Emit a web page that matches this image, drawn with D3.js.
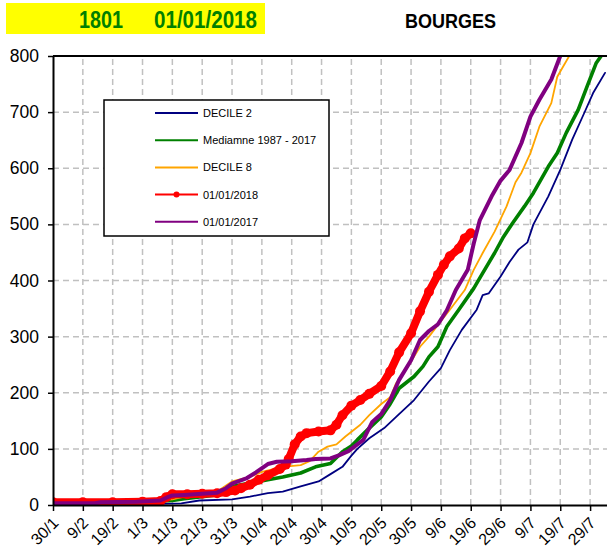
<!DOCTYPE html>
<html>
<head>
<meta charset="utf-8">
<script src="https://cdn.jsdelivr.net/npm/d3@7"></script>
<style>
  html, body { margin: 0; padding: 0; background: #fff; }
  svg { display: block; font-family: Arial, "Liberation Sans", sans-serif; }
</style>
</head>
<body>
<svg id="chart" width="607" height="551"></svg>
<script>
// ---------- DATA ----------
const stationCode = "1801";
const startLabel = "01/01/2018";
const stationName = "BOURGES";
const year = 2018;

const xTickLabels = ["30/1","9/2","19/2","1/3","11/3","21/3","31/3","10/4","20/4","30/4","10/5","20/5","30/5","9/6","19/6","29/6","9/7","19/7","29/7"];
const yTicks = [0,100,200,300,400,500,600,700,800];
const xDomainLabels = ["30/1","4/8"];

const seriesNames = ["DECILE 2","Mediamne 1987 - 2017","DECILE 8","01/01/2018","01/01/2017"];

const decile2Dates = ["30/1","19/2","6/3","14/3","20/3","31/3","6/4","12/4","17/4","23/4","29/4","3/5","7/5","10/5","12/5","16/5","21/5","25/5","31/5","5/6","9/6","12/6","16/6","21/6","23/6","25/6","29/6","2/7","5/7","8/7","10/7","15/7","19/7","23/7","27/7","30/7","3/8"];
const decile2Values = [1,1,2,3,8,10,15,21,24,33,42,55,68,88,100,119,137,157,187,220,244,276,312,348,374,377,407,433,455,468,500,550,597,651,698,734,770];

const medianDates = ["30/1","9/2","19/2","1/3","11/3","15/3","26/3","31/3","6/4","12/4","17/4","23/4","28/4","3/5","7/5","10/5","12/5","16/5","20/5","23/5","26/5","31/5","3/6","5/6","8/6","11/6","15/6","20/6","23/6","27/6","30/6","3/7","7/7","10/7","15/7","18/7","21/7","25/7","28/7","31/7","3/8"];
const medianValues = [1,2,4,6,8,11,18,33,39,45,50,57,68,74,95,105,116,137,157,180,208,229,247,264,282,318,348,386,413,449,478,502,532,556,603,627,663,704,746,787,810];

const decile8Dates = ["30/1","9/2","19/2","1/3","11/3","15/3","21/3","26/3","31/3","6/4","10/4","17/4","23/4","26/4","29/4","2/5","5/5","8/5","13/5","16/5","20/5","23/5","25/5","29/5","2/6","5/6","8/6","12/6","17/6","20/6","23/6","27/6","1/7","4/7","6/7","9/7","12/7","16/7","18/7","22/7","24/7"];
const decile8Values = [2,3,5,7,10,15,20,24,42,50,59,68,71,78,95,104,108,122,143,160,180,192,217,247,282,300,321,348,383,419,449,487,532,575,592,627,674,716,763,800,830];

const y2018Dates = ["30/1","9/2","19/2","1/3","7/3","9/3","11/3","16/3","21/3","26/3","29/3","1/4","3/4","6/4","9/4","12/4","16/4","18/4","19/4","21/4","23/4","25/4","29/4","3/5","5/5","7/5","10/5","13/5","16/5","20/5","23/5","26/5","30/5","2/6","5/6","8/6","10/6","12/6","15/6","17/6","19/6"];
const y2018Values = [5,5,5,6,7,14,19,19,20,21,23,26,30,36,45,53,64,72,82,108,122,128,131,133,143,160,177,187,198,212,238,272,306,345,380,410,428,443,457,475,484];

const y2017Dates = ["30/1","13/2","15/2","27/2","7/3","9/3","11/3","15/3","21/3","26/3","29/3","31/3","5/4","8/4","12/4","15/4","20/4","25/4","28/4","3/5","6/5","9/5","14/5","17/5","20/5","23/5","26/5","30/5","2/6","5/6","8/6","11/6","14/6","18/6","20/6","22/6","26/6","29/6","2/7","6/7","9/7","12/7","16/7","19/7","21/7"];
const y2017Values = [3,3,5,6,8,13,17,18,20,22,30,38,48,58,73,77,78,80,82,83,89,96,116,148,162,187,223,258,294,310,322,347,383,419,466,507,550,578,597,645,692,722,758,800,830];

const seriesColors = ["#000080","#008000","#FFA500","#FF0000","#800080"];

// ---------- HELPERS ----------
const parseDM = s => { const [d, m] = s.split("/").map(Number); return new Date(Date.UTC(year, m - 1, d)); };
const zip = (dates, vals) => dates.map((d, i) => ({ date: parseDM(d), value: vals[i] }));

const series = [
  { name: seriesNames[0], data: zip(decile2Dates, decile2Values), color: seriesColors[0], width: 1.8 },
  { name: seriesNames[1], data: zip(medianDates, medianValues), color: seriesColors[1], width: 3.6 },
  { name: seriesNames[2], data: zip(decile8Dates, decile8Values), color: seriesColors[2], width: 1.8 },
  { name: seriesNames[3], data: zip(y2018Dates, y2018Values), color: seriesColors[3], width: 8, markers: true },
  { name: seriesNames[4], data: zip(y2017Dates, y2017Values), color: seriesColors[4], width: 4 }
];

// ---------- LAYOUT ----------
const svg = d3.select("#chart");
const plot = { left: 53, top: 56, right: 608, bottom: 505 };

const x = d3.scaleUtc().domain(xDomainLabels.map(parseDM)).range([plot.left, plot.right]);
const y = d3.scaleLinear().domain([0, 800]).range([plot.bottom, plot.top]);

// Title
svg.append("rect").attr("x", 6).attr("y", 3).attr("width", 259).attr("height", 31).attr("fill", "#FFFF00");
svg.append("text").attr("x", 79).attr("y", 28).attr("fill", "#008000").attr("font-weight", "bold")
  .attr("font-size", 23).attr("textLength", 44).attr("lengthAdjust", "spacingAndGlyphs").text(stationCode);
svg.append("text").attr("x", 154).attr("y", 28).attr("fill", "#008000").attr("font-weight", "bold")
  .attr("font-size", 23).attr("textLength", 103).attr("lengthAdjust", "spacingAndGlyphs").text(startLabel);
svg.append("text").attr("x", 405).attr("y", 28).attr("fill", "#000").attr("font-weight", "bold")
  .attr("font-size", 21).attr("textLength", 91).attr("lengthAdjust", "spacingAndGlyphs").text(stationName);

// Clip
svg.append("defs").append("clipPath").attr("id", "plotclip").append("rect")
  .attr("x", plot.left).attr("y", plot.top).attr("width", plot.right - plot.left).attr("height", plot.bottom - plot.top);

// Grid
const tickDates = xTickLabels.map(parseDM);
const grid = svg.append("g").attr("stroke", "#c0c0c0").attr("stroke-width", 1.5).attr("stroke-dasharray", "6,4");
grid.selectAll("line.v").data(tickDates.slice(1)).join("line").attr("class", "v")
  .attr("x1", d => x(d)).attr("x2", d => x(d)).attr("y1", plot.bottom).attr("y2", plot.top);
grid.selectAll("line.h").data(yTicks.slice(1, -1)).join("line").attr("class", "h")
  .attr("x1", plot.left).attr("x2", plot.right).attr("y1", d => y(d)).attr("y2", d => y(d));

// Series
const line = d3.line().x(d => x(d.date)).y(d => y(d.value));
const sg = svg.append("g").attr("clip-path", "url(#plotclip)");
series.forEach(s => {
  sg.append("path").datum(s.data).attr("d", line).attr("fill", "none")
    .attr("stroke", s.color).attr("stroke-width", s.width).attr("stroke-linejoin", "round").attr("stroke-linecap", "round");
  if (s.markers) {
    sg.append("g").selectAll("circle").data(s.data).join("circle")
      .attr("cx", d => x(d.date)).attr("cy", d => y(d.value)).attr("r", 5).attr("fill", s.color);
  }
});

// Axes
const xAxis = d3.axisBottom(x).tickValues(tickDates).tickFormat((d, i) => xTickLabels[i]).tickSize(6).tickSizeOuter(0);
const gx = svg.append("g").attr("transform", `translate(0,${plot.bottom})`).call(xAxis);
gx.select(".domain").attr("stroke", "#000").attr("stroke-width", 2);
gx.selectAll(".tick line").attr("stroke", "#000").attr("stroke-width", 1.5);
gx.selectAll(".tick text").attr("font-size", 16).attr("fill", "#000").attr("font-family", "Arial, 'Liberation Sans', sans-serif")
  .attr("text-anchor", "end").attr("dy", null).attr("y", null)
  .attr("transform", "translate(6,19) rotate(-45)");

const yAxis = d3.axisLeft(y).tickValues(yTicks).tickFormat(d3.format("d")).tickSize(5).tickSizeOuter(0).tickPadding(9);
const gy = svg.append("g").attr("transform", `translate(${plot.left},0)`).call(yAxis);
gy.select(".domain").attr("stroke", "#000").attr("stroke-width", 2);
gy.selectAll(".tick line").attr("stroke", "#000").attr("stroke-width", 1.5);
gy.selectAll(".tick text").attr("font-size", 17.5).attr("fill", "#000").attr("font-family", "Arial, 'Liberation Sans', sans-serif");

// Top border
svg.append("line").attr("x1", plot.left).attr("x2", plot.right).attr("y1", plot.top).attr("y2", plot.top)
  .attr("stroke", "#000").attr("stroke-width", 2);

// Legend
const lg = svg.append("g");
lg.append("rect").attr("x", 104).attr("y", 100).attr("width", 225).attr("height", 136)
  .attr("fill", "#fff").attr("stroke", "#000").attr("stroke-width", 1.5);
const legendRowY = i => 113 + i * 27.2;
series.forEach((s, i) => {
  const yy = legendRowY(i);
  lg.append("line").attr("x1", 155).attr("x2", 198).attr("y1", yy).attr("y2", yy)
    .attr("stroke", s.color).attr("stroke-width", 2);
  if (s.markers) lg.append("circle").attr("cx", 176.5).attr("cy", yy).attr("r", 3).attr("fill", s.color);
  lg.append("text").attr("x", 203).attr("y", yy + 4).attr("font-size", 11).attr("fill", "#000").text(s.name);
});
</script>
</body>
</html>
